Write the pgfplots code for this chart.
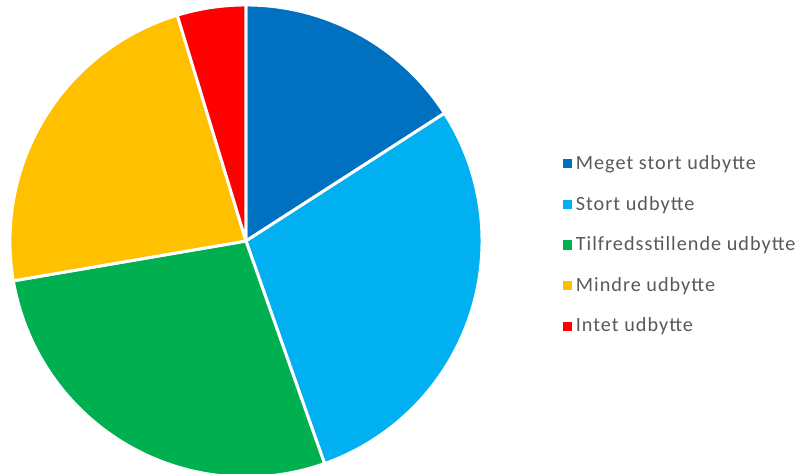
\documentclass[border=0pt]{standalone}
\usepackage{pgfplots}
\usepackage{pgfplotstable}
\usepackage{fontspec}
\setmainfont{Carlito}
\newfontfamily\legendfont[LetterSpace=5]{Carlito}
\pgfplotsset{compat=1.18}

\definecolor{c1}{HTML}{0070C0}
\definecolor{c2}{HTML}{00B0F0}
\definecolor{c3}{HTML}{00B050}
\definecolor{c4}{HTML}{FFC000}
\definecolor{c5}{HTML}{FF0000}
\definecolor{txt}{HTML}{595959}

% share in percent, clockwise from 12 o'clock
\pgfplotstableread{
label share
1 15.9
2 28.7
3 27.7
4 23.0
5 4.7
}\piedata

\begin{document}
\begin{tikzpicture}
\pgfplotstablegetelem{0}{share}\of\piedata \pgfmathsetmacro{\aA}{3.6*\pgfplotsretval}
\pgfplotstablegetelem{1}{share}\of\piedata \pgfmathsetmacro{\aB}{\aA+3.6*\pgfplotsretval}
\pgfplotstablegetelem{2}{share}\of\piedata \pgfmathsetmacro{\aC}{\aB+3.6*\pgfplotsretval}
\pgfplotstablegetelem{3}{share}\of\piedata \pgfmathsetmacro{\aD}{\aC+3.6*\pgfplotsretval}
\begin{axis}[
	name=pie,
	scale only axis,
	width=16cm,
	height=9.48cm,
	xmin=-1.042, xmax=2.347,
	ymin=-0.987, ymax=1.021,
	hide axis,
	clip=false,
	legend image code/.code={\fill[#1,draw=none] (0pt,-2.6pt) rectangle (5.2pt,2.6pt);},
	legend style={
		at={(0.697,0.483)}, anchor=west,
		draw=none, fill=none,
		font=\legendfont\fontsize{11.5}{13.5}\selectfont,
		text=txt,
		row sep=9.6pt,
		cells={anchor=west},
	},
	every axis plot/.append style={draw=white, line width=1.7pt, line join=round, samples=80, variable=\t},
]
\addplot[fill=c1, domain=0:\aA] ({sin(t)},{cos(t)}) -- (axis cs:0,0) -- cycle;
\addlegendentry{Meget stort udbytte}
\addplot[fill=c2, domain=\aA:\aB] ({sin(t)},{cos(t)}) -- (axis cs:0,0) -- cycle;
\addlegendentry{Stort udbytte}
\addplot[fill=c3, domain=\aB:\aC] ({sin(t)},{cos(t)}) -- (axis cs:0,0) -- cycle;
\addlegendentry{Tilfredsstillende udbytte}
\addplot[fill=c4, domain=\aC:\aD] ({sin(t)},{cos(t)}) -- (axis cs:0,0) -- cycle;
\addlegendentry{Mindre udbytte}
\addplot[fill=c5, domain=\aD:360] ({sin(t)},{cos(t)}) -- (axis cs:0,0) -- cycle;
\addlegendentry{Intet udbytte}
\end{axis}
% the page is exactly the axis area
\pgfresetboundingbox
\path (pie.south west) rectangle (pie.north east);
\end{tikzpicture}
\end{document}
